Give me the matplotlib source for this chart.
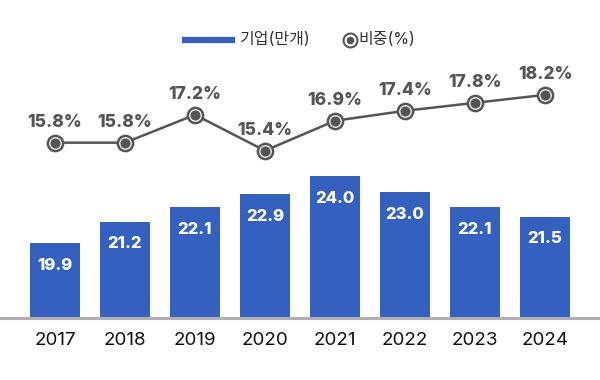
import matplotlib
matplotlib.use("Agg")
import matplotlib.pyplot as plt
from matplotlib.lines import Line2D

plt.rcParams['font.family'] = ['Inter', 'Noto Sans CJK KR', 'DejaVu Sans']

# data
years = ["2017", "2018", "2019", "2020", "2021", "2022", "2023", "2024"]
companies = [19.9, 21.2, 22.1, 22.9, 24.0, 23.0, 22.1, 21.5]  # 기업(만개)
share = [15.8, 15.8, 17.2, 15.4, 16.9, 17.4, 17.8, 18.2]      # 비중(%)

bar_color = "#3460C0"
line_color = "#555555"

fig = plt.figure(figsize=(6, 3.8), dpi=100)
ax = fig.add_axes([0, 1 - 318 / 380, 1, 258 / 380])
x = list(range(len(years)))

ax.bar(x, companies, width=50 / 70, color=bar_color, zorder=2)
ax.set_xlim(-55 / 70, 600 / 70 - 55 / 70)
ax.set_ylim(15.3, 31.1)

for xi, v in zip(x, companies):
    ax.annotate(f"{v:.1f}", (xi, v), xytext=(0, -16), textcoords="offset points",
                ha="center", va="center", color="white", fontsize=12, fontweight="heavy")

for s in ["top", "left", "right"]:
    ax.spines[s].set_visible(False)
ax.spines["bottom"].set_color("#b0b0b0")
ax.spines["bottom"].set_linewidth(2.2)
ax.set_yticks([])
ax.set_xticks(x)
ax.set_xticklabels(years, fontsize=13.5, color="#111111")
ax.tick_params(axis="x", length=0, pad=10)

# line on second axis
ax2 = ax.twinx()
ax2.set_ylim(7.0, 19.95)
ax2.set_axis_off()
ax2.plot(x, share, color=line_color, lw=1.8, zorder=3)
ax2.scatter(x, share, s=120, facecolor="white", edgecolor=line_color, linewidth=1.8, zorder=4)
ax2.scatter(x, share, s=40, color=line_color, zorder=5)
for xi, v in zip(x, share):
    ax2.annotate(f"{v:.1f}%", (xi, v), xytext=(0, 14.5), textcoords="offset points",
                 ha="center", va="center", color=line_color, fontsize=12.5, fontweight="heavy")

# legend, drawn by hand in figure coords
ly = 1 - 40 / 380
fig.add_artist(Line2D([185 / 600, 232 / 600], [ly, ly], color=bar_color, lw=4.5,
                      transform=fig.transFigure))
fig.text(239 / 600, ly, "기업(만개)", ha="left", va="center", fontsize=11.5, color="#333333")
fig.add_artist(Line2D([350 / 600], [ly], marker="o", markersize=10, markerfacecolor="white",
                      markeredgecolor=line_color, markeredgewidth=1.5, transform=fig.transFigure))
fig.add_artist(Line2D([350 / 600], [ly], marker="o", markersize=5.5, color=line_color,
                      markeredgewidth=0, transform=fig.transFigure))
fig.text(358 / 600, ly, "비중(%)", ha="left", va="center", fontsize=11.5, color="#333333")

fig.savefig("out.png", dpi=100)
